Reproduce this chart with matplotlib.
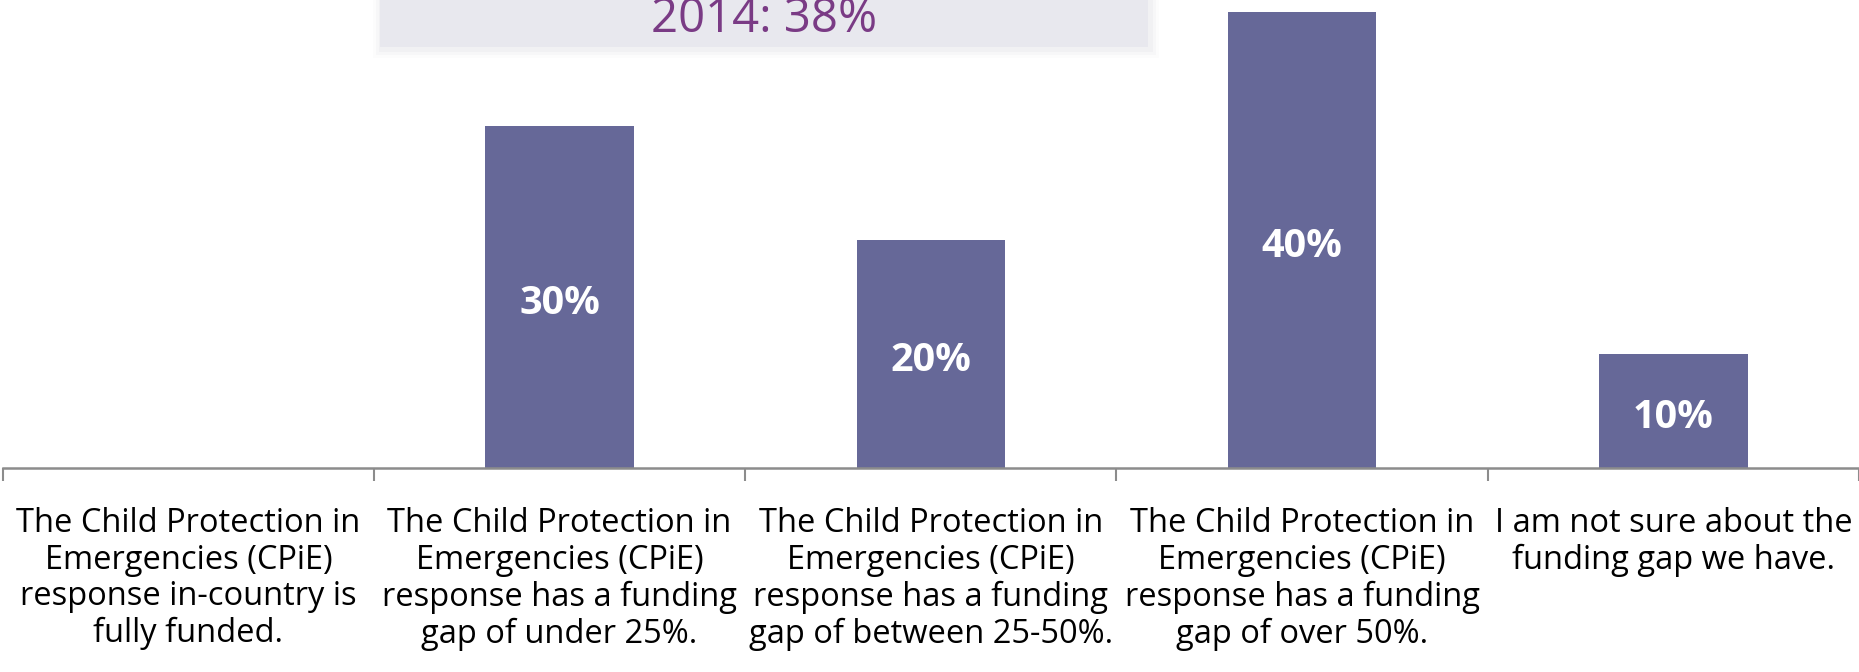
import matplotlib
matplotlib.use("Agg")
import matplotlib.pyplot as plt
from matplotlib.patches import Rectangle

categories = [
    "The Child Protection in\nEmergencies (CPiE)\nresponse in-country is\nfully funded.",
    "The Child Protection in\nEmergencies (CPiE)\nresponse has a funding\ngap of under 25%.",
    "The Child Protection in\nEmergencies (CPiE)\nresponse has a funding\ngap of between 25-50%.",
    "The Child Protection in\nEmergencies (CPiE)\nresponse has a funding\ngap of over 50%.",
    "I am not sure about the\nfunding gap we have.",
]
shares = [0, 30, 20, 40, 10]
prior_year = "2014: 38%"

BAR = "#666898"
AXIS = "#8c8c8c"
W, H = 1859, 672

plt.rcParams["font.family"] = ["Open Sans", "DejaVu Sans"]

fig = plt.figure(figsize=(W / 100, H / 100), dpi=100)
ax = fig.add_axes([2.7 / W, 204 / H, 1 - 2.7 / W, 468 / H])

x = range(len(categories))
ax.bar(x, shares, width=0.4, color=BAR, zorder=2)
ax.set_xlim(-0.5, len(categories) - 0.5)
ax.set_ylim(0, 468 / 11.4)

for s in ["top", "left", "right"]:
    ax.spines[s].set_visible(False)
ax.spines["bottom"].set_color(AXIS)
ax.spines["bottom"].set_linewidth(1.8)
ax.set_yticks([])
ax.set_xticks([i - 0.5 for i in range(len(categories) + 1)])
ax.set_xticklabels([])
ax.tick_params(axis="x", direction="out", length=9, width=1.5, color=AXIS)

# category labels under each slot
for i, lab in enumerate(categories):
    ax.annotate(lab, xy=(i, 0), xycoords=("data", "axes fraction"),
                xytext=(0, -28), textcoords="offset points",
                ha="center", va="top", multialignment="center",
                fontsize=23.5, linespacing=1.15, color="black",
                annotation_clip=False)

# value labels inside bars
for i, v in enumerate(shares):
    if v > 0:
        ax.annotate(f"{v}%", xy=(i, v / 2), xytext=(0, -12.3),
                    textcoords="offset points", ha="center", va="baseline",
                    fontsize=28.5, fontweight="bold", color="white", zorder=3)

# comparison box at the top with a soft shadow
bx0, bx1, by0 = 380, 1148, 47
for k, a in [(9, 0.02), (6, 0.03), (3, 0.04)]:
    fig.patches.append(Rectangle(((bx0 - k + 2) / W, 1 - (by0 + k + 2) / H),
                                 (bx1 - bx0 + 2 * k) / W, (by0 + k + 20) / H,
                                 transform=fig.transFigure, facecolor="#6a6a80",
                                 edgecolor="none", alpha=a, zorder=0))
fig.patches.append(Rectangle((bx0 / W, 1 - by0 / H), (bx1 - bx0) / W, (by0 + 20) / H,
                             transform=fig.transFigure, facecolor="#e8e8ee",
                             edgecolor="none", zorder=1))
fig.text((bx0 + bx1) / 2 / W, 1 - 32 / H, prior_year, ha="center", va="baseline",
         fontsize=34, color="#7a3b85")

fig.savefig("out.png", dpi=100)
